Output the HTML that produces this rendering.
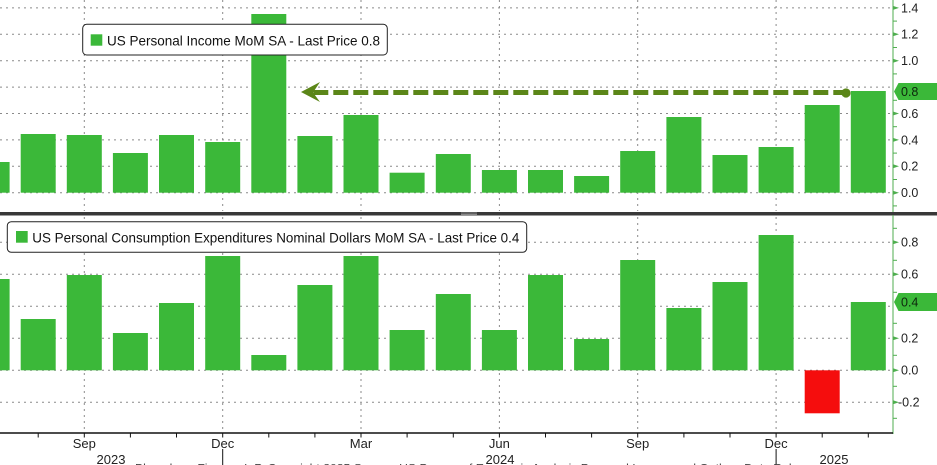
<!DOCTYPE html>
<html><head><meta charset="utf-8"><style>
html,body{margin:0;padding:0;background:#fff;}
svg{display:block;}
text{font-family:"Liberation Sans",Arial,sans-serif;}
</style></head><body>
<svg width="937" height="465" viewBox="0 0 937 465" xmlns="http://www.w3.org/2000/svg">
<rect width="937" height="465" fill="#fff"/>
<!-- TOP PANEL GRID -->
<g stroke="#8a8a8a" stroke-width="1" stroke-dasharray="2,4" fill="none">
  <line x1="0" y1="7.9" x2="892" y2="7.9"/>
  <line x1="0" y1="34.3" x2="892" y2="34.3"/>
  <line x1="0" y1="60.7" x2="892" y2="60.7"/>
  <line x1="0" y1="87.1" x2="892" y2="87.1"/>
  <line x1="0" y1="113.5" x2="892" y2="113.5"/>
  <line x1="0" y1="139.9" x2="892" y2="139.9"/>
  <line x1="0" y1="166.3" x2="892" y2="166.3"/>
  <line x1="0" y1="192.7" x2="892" y2="192.7"/>
  <line x1="84.3" y1="0" x2="84.3" y2="211"/>
  <line x1="222.7" y1="0" x2="222.7" y2="211"/>
  <line x1="361" y1="0" x2="361" y2="211"/>
  <line x1="499.4" y1="0" x2="499.4" y2="211"/>
  <line x1="637.7" y1="0" x2="637.7" y2="211"/>
  <line x1="776.1" y1="0" x2="776.1" y2="211"/>
</g>
<!-- TOP BARS -->
<g fill="#3bb839">
  <rect x="-25.4" y="162" width="35" height="30.7"/>
  <rect x="20.7" y="134" width="35" height="58.7"/>
  <rect x="66.8" y="135" width="35" height="57.7"/>
  <rect x="112.9" y="153" width="35" height="39.7"/>
  <rect x="159" y="135" width="35" height="57.7"/>
  <rect x="205.2" y="142" width="35" height="50.7"/>
  <rect x="251.3" y="14" width="35" height="178.7"/>
  <rect x="297.4" y="136" width="35" height="56.7"/>
  <rect x="343.5" y="115" width="35" height="77.7"/>
  <rect x="389.6" y="172.7" width="35" height="20"/>
  <rect x="435.8" y="154" width="35" height="38.7"/>
  <rect x="481.9" y="170" width="35" height="22.7"/>
  <rect x="528" y="170" width="35" height="22.7"/>
  <rect x="574.1" y="176" width="35" height="16.7"/>
  <rect x="620.2" y="151" width="35" height="41.7"/>
  <rect x="666.4" y="117" width="35" height="75.7"/>
  <rect x="712.5" y="155" width="35" height="37.7"/>
  <rect x="758.6" y="147" width="35" height="45.7"/>
  <rect x="804.7" y="105" width="35" height="87.7"/>
  <rect x="850.8" y="91" width="35" height="101.7"/>
</g>
<!-- Arrow -->
<line x1="313.3" y1="92.5" x2="846" y2="92.5" stroke="#5b8618" stroke-width="5" stroke-dasharray="15,5"/>
<polygon points="301,92 320,82 313,92.5 320,102" fill="#5b8618"/>
<circle cx="846" cy="93" r="4.6" fill="#5b8618"/>
<!-- Top legend -->
<rect x="82.7" y="24.3" width="304.6" height="30.7" rx="4" ry="4" fill="#fff" stroke="#222" stroke-width="1"/>
<rect x="90.7" y="34.3" width="11.6" height="11.4" fill="#3bb839"/>
<text x="107" y="45.5" font-size="14" fill="#111" textLength="273" lengthAdjust="spacingAndGlyphs">US Personal Income MoM SA - Last Price 0.8</text>
<!-- Top y axis -->
<line x1="893" y1="0" x2="893" y2="212" stroke="#4fae4f" stroke-width="1"/>
<g stroke="#4fae4f" stroke-width="1">
  <line x1="893" y1="21.1" x2="897" y2="21.1"/>
  <line x1="893" y1="47.5" x2="897" y2="47.5"/>
  <line x1="893" y1="73.9" x2="897" y2="73.9"/>
  <line x1="893" y1="100.3" x2="897" y2="100.3"/>
  <line x1="893" y1="126.7" x2="897" y2="126.7"/>
  <line x1="893" y1="153.1" x2="897" y2="153.1"/>
  <line x1="893" y1="179.5" x2="897" y2="179.5"/>
  <line x1="893" y1="205.9" x2="897" y2="205.9"/>
</g>
<g fill="#4fae4f">
  <polygon points="893,5.9 899,7.9 893,9.9"/>
  <polygon points="893,32.3 899,34.3 893,36.3"/>
  <polygon points="893,58.7 899,60.7 893,62.7"/>
  <polygon points="893,111.5 899,113.5 893,115.5"/>
  <polygon points="893,137.9 899,139.9 893,141.9"/>
  <polygon points="893,164.3 899,166.3 893,168.3"/>
  <polygon points="893,190.7 899,192.7 893,194.7"/>
</g>
<g font-size="12.5" fill="#222">
  <text x="901" y="12.3">1.4</text>
  <text x="901" y="38.7">1.2</text>
  <text x="901" y="65.1">1.0</text>
  <text x="901" y="117.9">0.6</text>
  <text x="901" y="144.3">0.4</text>
  <text x="901" y="170.7">0.2</text>
  <text x="901" y="197.1">0.0</text>
</g>
<polygon points="894,91.5 898.5,83 937,83 937,100 898.5,100" fill="#3bb839"/>
<text x="901" y="96" font-size="12.5" fill="#0d260d">0.8</text>

<!-- Separator -->
<rect x="0" y="212" width="937" height="3.5" fill="#383838"/>
<line x1="461" y1="213" x2="477" y2="213" stroke="#aaa" stroke-width="0.7"/>
<line x1="461" y1="214.5" x2="477" y2="214.5" stroke="#aaa" stroke-width="0.7"/>

<!-- BOTTOM PANEL GRID -->
<g stroke="#8a8a8a" stroke-width="1" stroke-dasharray="2,4" fill="none">
  <line x1="0" y1="242.3" x2="892" y2="242.3"/>
  <line x1="0" y1="274.3" x2="892" y2="274.3"/>
  <line x1="0" y1="306.3" x2="892" y2="306.3"/>
  <line x1="0" y1="338.3" x2="892" y2="338.3"/>
  <line x1="0" y1="370.3" x2="892" y2="370.3"/>
  <line x1="0" y1="402.3" x2="892" y2="402.3"/>
  <line x1="84.3" y1="217" x2="84.3" y2="432"/>
  <line x1="222.7" y1="217" x2="222.7" y2="432"/>
  <line x1="361" y1="217" x2="361" y2="432"/>
  <line x1="499.4" y1="217" x2="499.4" y2="432"/>
  <line x1="637.7" y1="217" x2="637.7" y2="432"/>
  <line x1="776.1" y1="217" x2="776.1" y2="432"/>
</g>
<!-- BOTTOM BARS -->
<g fill="#3bb839">
  <rect x="-25.4" y="279" width="35" height="91.3"/>
  <rect x="20.7" y="319" width="35" height="51.3"/>
  <rect x="66.8" y="275" width="35" height="95.3"/>
  <rect x="112.9" y="333" width="35" height="37.3"/>
  <rect x="159" y="303" width="35" height="67.3"/>
  <rect x="205.2" y="256" width="35" height="114.3"/>
  <rect x="251.3" y="355" width="35" height="15.3"/>
  <rect x="297.4" y="285" width="35" height="85.3"/>
  <rect x="343.5" y="256" width="35" height="114.3"/>
  <rect x="389.6" y="330" width="35" height="40.3"/>
  <rect x="435.8" y="294" width="35" height="76.3"/>
  <rect x="481.9" y="330" width="35" height="40.3"/>
  <rect x="528" y="275" width="35" height="95.3"/>
  <rect x="574.1" y="339" width="35" height="31.3"/>
  <rect x="620.2" y="260" width="35" height="110.3"/>
  <rect x="666.4" y="308" width="35" height="62.3"/>
  <rect x="712.5" y="282" width="35" height="88.3"/>
  <rect x="758.6" y="235" width="35" height="135.3"/>
  <rect x="850.8" y="302" width="35" height="68.3"/>
</g>
<rect x="804.7" y="370.3" width="35" height="43" fill="#f50d0d"/>
<!-- Bottom legend -->
<rect x="7.3" y="221.7" width="519.4" height="30.6" rx="4" ry="4" fill="#fff" stroke="#222" stroke-width="1"/>
<rect x="16" y="231" width="11.7" height="11.7" fill="#3bb839"/>
<text x="32.3" y="242.5" font-size="14" fill="#111" textLength="487" lengthAdjust="spacingAndGlyphs">US Personal Consumption Expenditures Nominal Dollars MoM SA - Last Price 0.4</text>
<!-- Bottom y axis -->
<line x1="893" y1="215" x2="893" y2="434" stroke="#4fae4f" stroke-width="1"/>
<g stroke="#4fae4f" stroke-width="1">
  <line x1="893" y1="228.3" x2="897" y2="228.3"/>
  <line x1="893" y1="260.3" x2="897" y2="260.3"/>
  <line x1="893" y1="292.3" x2="897" y2="292.3"/>
  <line x1="893" y1="323.3" x2="897" y2="323.3"/>
  <line x1="893" y1="355.3" x2="897" y2="355.3"/>
  <line x1="893" y1="386.3" x2="897" y2="386.3"/>
  <line x1="893" y1="418.3" x2="897" y2="418.3"/>
</g>
<g fill="#4fae4f">
  <polygon points="893,240.3 899,242.3 893,244.3"/>
  <polygon points="893,272.3 899,274.3 893,276.3"/>
  <polygon points="893,336.3 899,338.3 893,340.3"/>
  <polygon points="893,368.3 899,370.3 893,372.3"/>
  <polygon points="893,400.3 899,402.3 893,404.3"/>
</g>
<g font-size="12.5" fill="#222">
  <text x="901" y="246.7">0.8</text>
  <text x="901" y="278.7">0.6</text>
  <text x="901" y="342.7">0.2</text>
  <text x="901" y="374.7">0.0</text>
  <text x="898" y="406.7">-0.2</text>
</g>
<polygon points="894,302 898.5,293 937,293 937,311 898.5,311" fill="#3bb839"/>
<text x="901" y="306.7" font-size="12.5" fill="#0d260d">0.4</text>

<!-- X axis -->
<line x1="0" y1="433" x2="893" y2="433" stroke="#111" stroke-width="1.5"/>
<g stroke="#111" stroke-width="1">
  <line x1="38.2" y1="433" x2="38.2" y2="437.5"/>
  <line x1="84.3" y1="433" x2="84.3" y2="437.5"/>
  <line x1="130.4" y1="433" x2="130.4" y2="437.5"/>
  <line x1="176.5" y1="433" x2="176.5" y2="437.5"/>
  <line x1="222.7" y1="433" x2="222.7" y2="437.5"/>
  <line x1="268.8" y1="433" x2="268.8" y2="437.5"/>
  <line x1="314.9" y1="433" x2="314.9" y2="437.5"/>
  <line x1="361" y1="433" x2="361" y2="437.5"/>
  <line x1="407.1" y1="433" x2="407.1" y2="437.5"/>
  <line x1="453.3" y1="433" x2="453.3" y2="437.5"/>
  <line x1="499.4" y1="433" x2="499.4" y2="437.5"/>
  <line x1="545.5" y1="433" x2="545.5" y2="437.5"/>
  <line x1="591.6" y1="433" x2="591.6" y2="437.5"/>
  <line x1="637.7" y1="433" x2="637.7" y2="437.5"/>
  <line x1="683.9" y1="433" x2="683.9" y2="437.5"/>
  <line x1="730" y1="433" x2="730" y2="437.5"/>
  <line x1="776.1" y1="433" x2="776.1" y2="437.5"/>
  <line x1="822.2" y1="433" x2="822.2" y2="437.5"/>
  <line x1="868.3" y1="433" x2="868.3" y2="437.5"/>
  <line x1="222.7" y1="449" x2="222.7" y2="465"/>
  <line x1="776.1" y1="449" x2="776.1" y2="465"/>
</g>
<g font-size="13" fill="#222" text-anchor="middle">
  <text x="84.3" y="448">Sep</text>
  <text x="222.7" y="448">Dec</text>
  <text x="361" y="448">Mar</text>
  <text x="499.4" y="448">Jun</text>
  <text x="637.7" y="448">Sep</text>
  <text x="776.1" y="448">Dec</text>
  <text x="111" y="464">2023</text>
  <text x="500" y="464">2024</text>
  <text x="834" y="464">2025</text>
</g>
<text x="135" y="471.5" font-size="11" fill="#444" textLength="683" lengthAdjust="spacingAndGlyphs">Bloomberg Finance L.P. Copyright 2025 Source: US Bureau of Economic Analysis Personal Income and Outlays Data Release</text>
</svg>
</body></html>
